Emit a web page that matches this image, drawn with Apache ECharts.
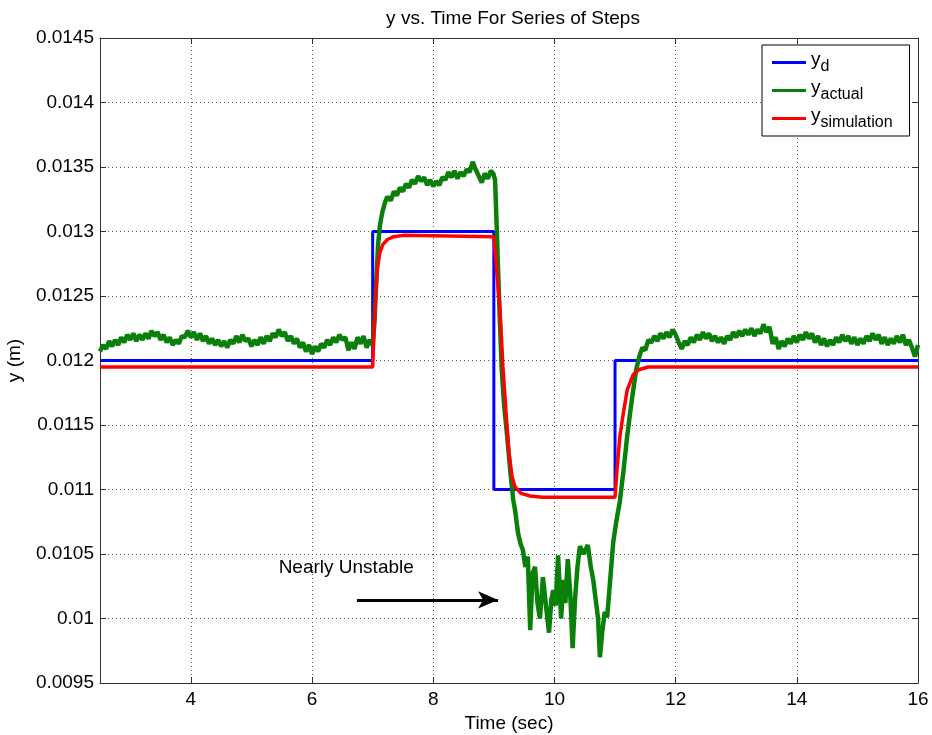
<!DOCTYPE html>
<html>
<head>
<meta charset="utf-8">
<script src="https://cdn.jsdelivr.net/npm/echarts@6/dist/echarts.min.js"></script>
<style>
  html, body { margin: 0; padding: 0; background: #fff; }
  #chart { width: 932px; height: 735px; }
</style>
</head>
<body>
<div id="chart"></div>
<script>
// time axis ticks and y ticks
const xTicks = [4, 6, 8, 10, 12, 14, 16];
const yTicks = [0.0095, 0.01, 0.0105, 0.011, 0.0115, 0.012, 0.0125, 0.013, 0.0135, 0.014, 0.0145];

// desired output (step commands)
const yDesired = [
  [2.5, 0.012], [7.0, 0.012], [7.0, 0.013], [9.0, 0.013],
  [9.0, 0.011], [11.0, 0.011], [11.0, 0.012], [16.0, 0.012]
];

// simulated response
const ySimulation = [
  [2.5, 0.01195], [7.0, 0.01195], [7.02, 0.0122], [7.05, 0.0125], [7.08, 0.01272],
  [7.12, 0.01284], [7.17, 0.0129], [7.25, 0.01294], [7.35, 0.01296], [7.5, 0.01297],
  [9.0, 0.01296], [9.05, 0.01268], [9.1, 0.0124], [9.15, 0.01195], [9.2, 0.0116],
  [9.25, 0.01128], [9.3, 0.0111], [9.35, 0.01102], [9.45, 0.01097], [9.6, 0.01095],
  [9.8, 0.01094], [11.0, 0.01094], [11.04, 0.0112], [11.08, 0.01141], [11.14, 0.0116],
  [11.2, 0.01177], [11.3, 0.01189], [11.4, 0.01193], [11.55, 0.01195], [16.0, 0.01195]
];

const yActual = [
  [2.50, 0.01207], [2.55, 0.01212], [2.60, 0.01209], [2.65, 0.01215], [2.70, 0.01211],
  [2.75, 0.01216], [2.80, 0.01212], [2.85, 0.01218], [2.90, 0.01214], [2.95, 0.01220],
  [3.00, 0.01216], [3.05, 0.01221], [3.10, 0.01215], [3.15, 0.01220], [3.20, 0.01216],
  [3.25, 0.01221], [3.30, 0.01217], [3.35, 0.01223], [3.40, 0.01219], [3.45, 0.01222],
  [3.50, 0.01216], [3.55, 0.01220], [3.60, 0.01214], [3.65, 0.01218], [3.70, 0.01212],
  [3.75, 0.01216], [3.80, 0.01213], [3.85, 0.01219], [3.90, 0.01218], [3.95, 0.01223],
  [4.00, 0.01218], [4.05, 0.01222], [4.10, 0.01216], [4.15, 0.01221], [4.20, 0.01215],
  [4.25, 0.01219], [4.30, 0.01213], [4.35, 0.01217], [4.40, 0.01212], [4.45, 0.01216],
  [4.50, 0.01211], [4.55, 0.01215], [4.60, 0.01210], [4.65, 0.01216], [4.70, 0.01213],
  [4.75, 0.01219], [4.80, 0.01214], [4.85, 0.01220], [4.90, 0.01215], [4.95, 0.01217],
  [5.00, 0.01211], [5.05, 0.01216], [5.10, 0.01212], [5.15, 0.01218], [5.20, 0.01213],
  [5.25, 0.01219], [5.30, 0.01215], [5.35, 0.01221], [5.40, 0.01218], [5.45, 0.01224],
  [5.50, 0.01219], [5.55, 0.01222], [5.60, 0.01215], [5.65, 0.01219], [5.70, 0.01213],
  [5.75, 0.01217], [5.80, 0.01210], [5.85, 0.01214], [5.90, 0.01207], [5.95, 0.01212],
  [6.00, 0.01205], [6.05, 0.01211], [6.10, 0.01207], [6.15, 0.01213], [6.20, 0.01210],
  [6.25, 0.01216], [6.30, 0.01212], [6.35, 0.01218], [6.40, 0.01214], [6.45, 0.01220],
  [6.50, 0.01216], [6.55, 0.01218], [6.60, 0.01208], [6.65, 0.01214], [6.70, 0.01209],
  [6.75, 0.01218], [6.80, 0.01213], [6.85, 0.01219], [6.90, 0.01210], [6.95, 0.01216],
  [7.00, 0.01212], [7.03, 0.01230], [7.06, 0.01262], [7.09, 0.01290], [7.12, 0.01305],
  [7.16, 0.01315], [7.20, 0.01322], [7.24, 0.01327], [7.30, 0.01324], [7.35, 0.01331],
  [7.40, 0.01328], [7.45, 0.01334], [7.50, 0.01331], [7.55, 0.01337], [7.60, 0.01334],
  [7.65, 0.01340], [7.70, 0.01337], [7.75, 0.01343], [7.80, 0.01339], [7.85, 0.01342],
  [7.90, 0.01336], [7.95, 0.01340], [8.00, 0.01335], [8.05, 0.01339], [8.10, 0.01336],
  [8.15, 0.01342], [8.20, 0.01340], [8.25, 0.01346], [8.30, 0.01342], [8.35, 0.01347],
  [8.40, 0.01341], [8.45, 0.01346], [8.50, 0.01343], [8.55, 0.01348], [8.60, 0.01346],
  [8.65, 0.01354], [8.70, 0.01348], [8.75, 0.01343], [8.80, 0.01338], [8.85, 0.01345],
  [8.90, 0.01341], [8.95, 0.01347], [8.99, 0.01345], [9.02, 0.01340], [9.05, 0.01300],
  [9.07, 0.01270], [9.10, 0.01230], [9.13, 0.01193], [9.17, 0.01165], [9.22, 0.01141],
  [9.27, 0.01115], [9.32, 0.01092], [9.35, 0.01084], [9.40, 0.01066], [9.44, 0.01058],
  [9.48, 0.01053], [9.52, 0.01040], [9.56, 0.01048], [9.60, 0.00991], [9.64, 0.01035],
  [9.68, 0.01040], [9.72, 0.01012], [9.76, 0.01000], [9.81, 0.01032], [9.86, 0.01010],
  [9.91, 0.00989], [9.95, 0.01015], [9.98, 0.01022], [10.02, 0.01010], [10.06, 0.01049],
  [10.11, 0.01000], [10.15, 0.01030], [10.18, 0.01012], [10.22, 0.01046], [10.26, 0.01020],
  [10.30, 0.00977], [10.34, 0.01015], [10.38, 0.01040], [10.42, 0.01056], [10.48, 0.01050],
  [10.55, 0.01057], [10.60, 0.01040], [10.64, 0.01030], [10.68, 0.01015], [10.72, 0.01000],
  [10.75, 0.00970], [10.79, 0.00990], [10.83, 0.01005], [10.87, 0.01001], [10.92, 0.01030],
  [10.97, 0.01059], [11.02, 0.01075], [11.08, 0.01091], [11.14, 0.01115], [11.20, 0.01141],
  [11.25, 0.01160], [11.30, 0.01177], [11.35, 0.01193], [11.40, 0.01203], [11.45, 0.01210],
  [11.50, 0.01208], [11.55, 0.01216], [11.60, 0.01214], [11.65, 0.01219], [11.70, 0.01215],
  [11.75, 0.01221], [11.80, 0.01217], [11.85, 0.01222], [11.90, 0.01218], [11.95, 0.01224],
  [12.00, 0.01220], [12.05, 0.01214], [12.10, 0.01209], [12.15, 0.01215], [12.20, 0.01212],
  [12.25, 0.01218], [12.30, 0.01214], [12.35, 0.01220], [12.40, 0.01216], [12.45, 0.01222],
  [12.50, 0.01217], [12.55, 0.01221], [12.60, 0.01215], [12.65, 0.01219], [12.70, 0.01214],
  [12.75, 0.01218], [12.80, 0.01213], [12.85, 0.01219], [12.90, 0.01216], [12.95, 0.01222],
  [13.00, 0.01218], [13.05, 0.01223], [13.10, 0.01219], [13.15, 0.01224], [13.20, 0.01220],
  [13.25, 0.01225], [13.30, 0.01219], [13.35, 0.01224], [13.40, 0.01221], [13.45, 0.01228],
  [13.50, 0.01222], [13.55, 0.01226], [13.60, 0.01213], [13.65, 0.01218], [13.70, 0.01209],
  [13.75, 0.01215], [13.80, 0.01211], [13.85, 0.01217], [13.90, 0.01213], [13.95, 0.01219],
  [14.00, 0.01214], [14.05, 0.01220], [14.10, 0.01216], [14.15, 0.01222], [14.20, 0.01217],
  [14.25, 0.01221], [14.30, 0.01214], [14.35, 0.01219], [14.40, 0.01212], [14.45, 0.01217],
  [14.50, 0.01211], [14.55, 0.01216], [14.60, 0.01212], [14.65, 0.01218], [14.70, 0.01214],
  [14.75, 0.01220], [14.80, 0.01215], [14.85, 0.01219], [14.90, 0.01213], [14.95, 0.01218],
  [15.00, 0.01212], [15.05, 0.01217], [15.10, 0.01213], [15.15, 0.01219], [15.20, 0.01215],
  [15.25, 0.01221], [15.30, 0.01216], [15.35, 0.01220], [15.40, 0.01213], [15.45, 0.01218],
  [15.50, 0.01212], [15.55, 0.01217], [15.60, 0.01213], [15.65, 0.01219], [15.70, 0.01214],
  [15.75, 0.01220], [15.80, 0.01212], [15.85, 0.01216], [15.90, 0.01210], [15.95, 0.01203],
  [16.00, 0.01212]
];

// annotation
const noteText = 'Nearly Unstable';
const notePos = [5.44, 0.010393];
const arrowFrom = [6.74, 0.010144];
const arrowTo = [9.07, 0.010144];

const legendSubs = { y_d: 'd', y_actual: 'actual', y_simulation: 'simulation' };

const FONT = '"Liberation Sans", Arial, sans-serif';

const chart = echarts.init(document.getElementById('chart'));

const frameAxis = {
  min: 2.5, max: 16,
  axisLine: { show: true, lineStyle: { color: '#333', width: 1 } },
  axisTick: { show: true, inside: true, length: 6, customValues: xTicks, lineStyle: { color: '#333' } },
  splitLine: { show: false }
};

chart.setOption({
  animation: false,
  backgroundColor: '#fff',
  textStyle: { fontFamily: FONT },
  title: {
    text: 'y vs. Time For Series of Steps',
    left: 508, textAlign: 'center', top: 4,
    textStyle: { fontFamily: FONT, fontSize: 19, fontWeight: 'normal', color: '#000' }
  },
  grid: { left: 100, right: 14, top: 38, bottom: 52, outerBoundsMode: 'none', containLabel: false },
  legend: {
    orient: 'vertical',
    left: 762, top: 45,
    padding: [5, 17, 5, 10],
    backgroundColor: '#fff',
    borderColor: '#000', borderWidth: 1,
    icon: 'rect', itemWidth: 34, itemHeight: 3, itemGap: 3,
    data: ['y_d', 'y_actual', 'y_simulation'],
    formatter: function (name) {
      return '{m|y}{s|' + legendSubs[name] + '}';
    },
    textStyle: {
      color: '#000',
      rich: {
        m: { fontFamily: FONT, fontSize: 19, color: '#000', lineHeight: 25, verticalAlign: 'top' },
        s: { fontFamily: FONT, fontSize: 16, color: '#000', lineHeight: 25, verticalAlign: 'bottom' }
      }
    }
  },
  xAxis: [
    {
      type: 'value', position: 'bottom',
      min: 2.5, max: 16,
      name: 'Time (sec)', nameLocation: 'middle', nameGap: 28,
      nameTextStyle: { fontFamily: FONT, fontSize: 19, color: '#000' },
      axisLine: { show: true, onZero: false, lineStyle: { color: '#333', width: 1 } },
      axisTick: { show: true, inside: true, length: 6, customValues: xTicks, lineStyle: { color: '#333' } },
      axisLabel: { customValues: xTicks, fontFamily: FONT, fontSize: 19, color: '#000', margin: 7 },
      splitLine: { show: true, lineStyle: { color: '#555', type: [1, 3], width: 1 } }
    },
    Object.assign({ type: 'value', position: 'top', axisLabel: { show: false } }, frameAxis)
  ],
  yAxis: [
    {
      type: 'value', position: 'left',
      min: 0.0095, max: 0.0145, interval: 0.0005,
      name: 'y (m)', nameLocation: 'middle', nameGap: 76, nameRotate: 90,
      nameTextStyle: { fontFamily: FONT, fontSize: 19, color: '#000' },
      axisLine: { show: true, onZero: false, lineStyle: { color: '#333', width: 1 } },
      axisTick: { show: true, inside: true, length: 6, lineStyle: { color: '#333' } },
      axisLabel: {
        fontFamily: FONT, fontSize: 19, color: '#000', margin: 6,
        formatter: function (v) { return String(+v.toFixed(5)); }
      },
      splitLine: { show: true, lineStyle: { color: '#555', type: [1, 3], width: 1 } }
    },
    {
      type: 'value', position: 'right',
      min: 0.0095, max: 0.0145, interval: 0.0005,
      axisLine: { show: true, onZero: false, lineStyle: { color: '#333', width: 1 } },
      axisTick: { show: true, inside: true, length: 6, lineStyle: { color: '#333' } },
      axisLabel: { show: false },
      splitLine: { show: false }
    }
  ],
  series: [
    {
      name: 'y_d', type: 'line', data: yDesired,
      showSymbol: false, color: '#0000ff',
      lineStyle: { color: '#0000ff', width: 3 }
    },
    {
      name: 'y_actual', type: 'line', data: yActual,
      showSymbol: false, color: '#0a800a',
      lineStyle: { color: '#0a800a', width: 4.5, join: 'bevel' }
    },
    {
      name: 'y_simulation', type: 'line', data: ySimulation,
      showSymbol: false, color: '#ff0000', smooth: false,
      lineStyle: { color: '#ff0000', width: 3.5 },
      markLine: {
        silent: true, animation: false,
        symbol: ['none', 'arrow'], symbolSize: [13, 20],
        label: { show: false },
        lineStyle: { color: '#000', width: 3, type: 'solid' },
        data: [[{ coord: arrowFrom }, { coord: arrowTo }]]
      },
      markPoint: {
        silent: true, animation: false,
        symbol: 'circle', symbolSize: 1,
        itemStyle: { color: 'rgba(0,0,0,0)' },
        label: {
          show: true, position: 'right', distance: 0,
          formatter: noteText,
          fontFamily: FONT, fontSize: 19, color: '#000'
        },
        data: [{ coord: notePos }]
      }
    }
  ]
});
</script>
</body>
</html>
